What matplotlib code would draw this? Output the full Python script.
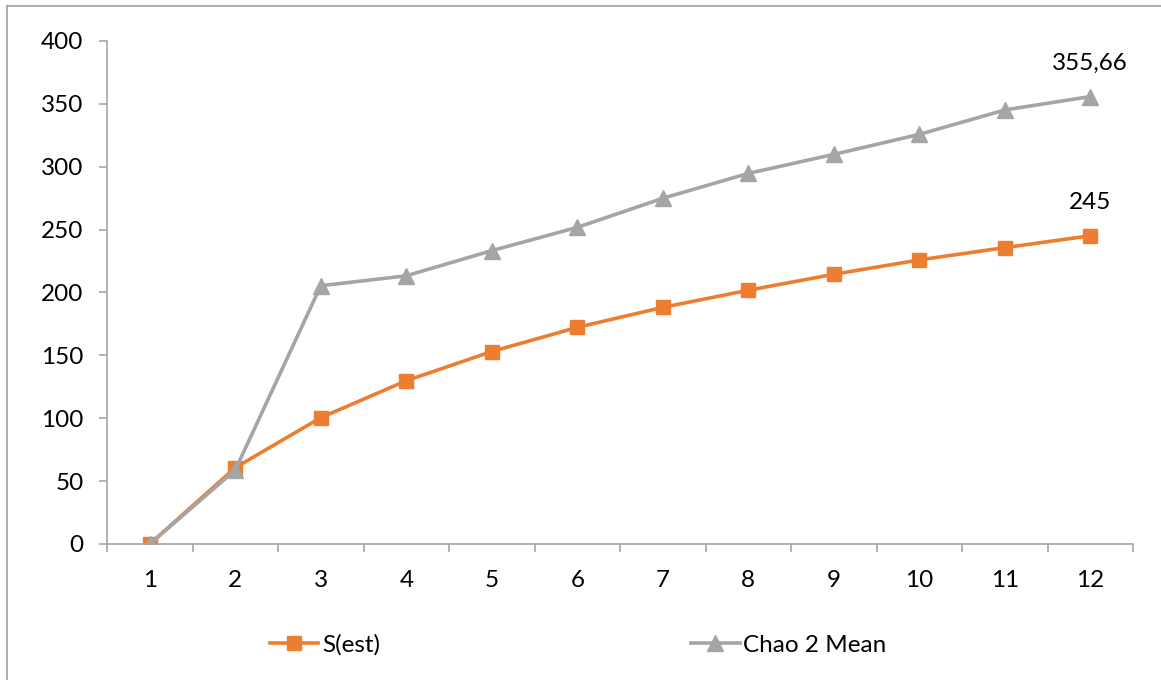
import matplotlib
matplotlib.use("Agg")
import matplotlib.pyplot as plt
from matplotlib.lines import Line2D

plt.rcParams['font.family'] = ['Lato', 'DejaVu Sans']

samples = list(range(1, 13))
s_est = [0, 60.7, 100.4, 129.8, 153, 172.2, 188.1, 201.7, 214.4, 225.8, 235.6, 245]
chao2 = [0, 58.8, 205.3, 213.2, 233.2, 251.7, 274.8, 294.6, 309.7, 325.6, 345, 355.66]
last_labels = ["245", "355,66"]

orange = "#ED7D31"
gray = "#A5A5A5"
axis_col = "#A6A6A6"
fs = 17.5

fig = plt.figure(figsize=(11.61, 6.80), dpi=100)
ax = fig.add_axes([0.0922, 0.2, 0.9759 - 0.0922, 0.940 - 0.2])

ax.plot(samples, s_est, color=orange, lw=2.6, marker="s", ms=10, label="S(est)")
ax.plot(samples, chao2, color=gray, lw=2.6, marker="^", ms=11, label="Chao 2 Mean")

ax.annotate(last_labels[0], (samples[-1], s_est[-1]), xytext=(0, 24), textcoords="offset points",
            ha="center", va="center", fontsize=fs)
ax.annotate(last_labels[1], (samples[-1], chao2[-1]), xytext=(0, 24), textcoords="offset points",
            ha="center", va="center", fontsize=fs)

ax.set_xlim(0.5, 12.5)
ax.set_ylim(0, 400)
ax.set_yticks(range(0, 401, 50))
ax.set_xticks(samples)
ax.set_xticks([x + 0.5 for x in range(0, 13)], minor=True)

for side in ["top", "right"]:
    ax.spines[side].set_visible(False)
for side in ["left", "bottom"]:
    ax.spines[side].set_color(axis_col)
    ax.spines[side].set_linewidth(1.2)

ax.tick_params(axis="y", length=6, width=1.2, color=axis_col, pad=11, labelsize=fs)
ax.tick_params(axis="x", which="major", length=0, pad=19, labelsize=fs)
ax.tick_params(axis="x", which="minor", length=6, width=1.2, color=axis_col)

fig.legend(loc="center", bbox_to_anchor=(578 / 1161, 1 - 645 / 680), ncol=2, frameon=False,
           fontsize=fs, handlelength=2.0, handletextpad=0.15, columnspacing=12.8)

fig.add_artist(Line2D([7 / 1161, 7 / 1161], [0, 1 - 6 / 680], color="#A0A0A0", lw=1.2))
fig.add_artist(Line2D([7 / 1161, 1], [1 - 6 / 680, 1 - 6 / 680], color="#A0A0A0", lw=1.2))

fig.savefig("out.png", dpi=100)
